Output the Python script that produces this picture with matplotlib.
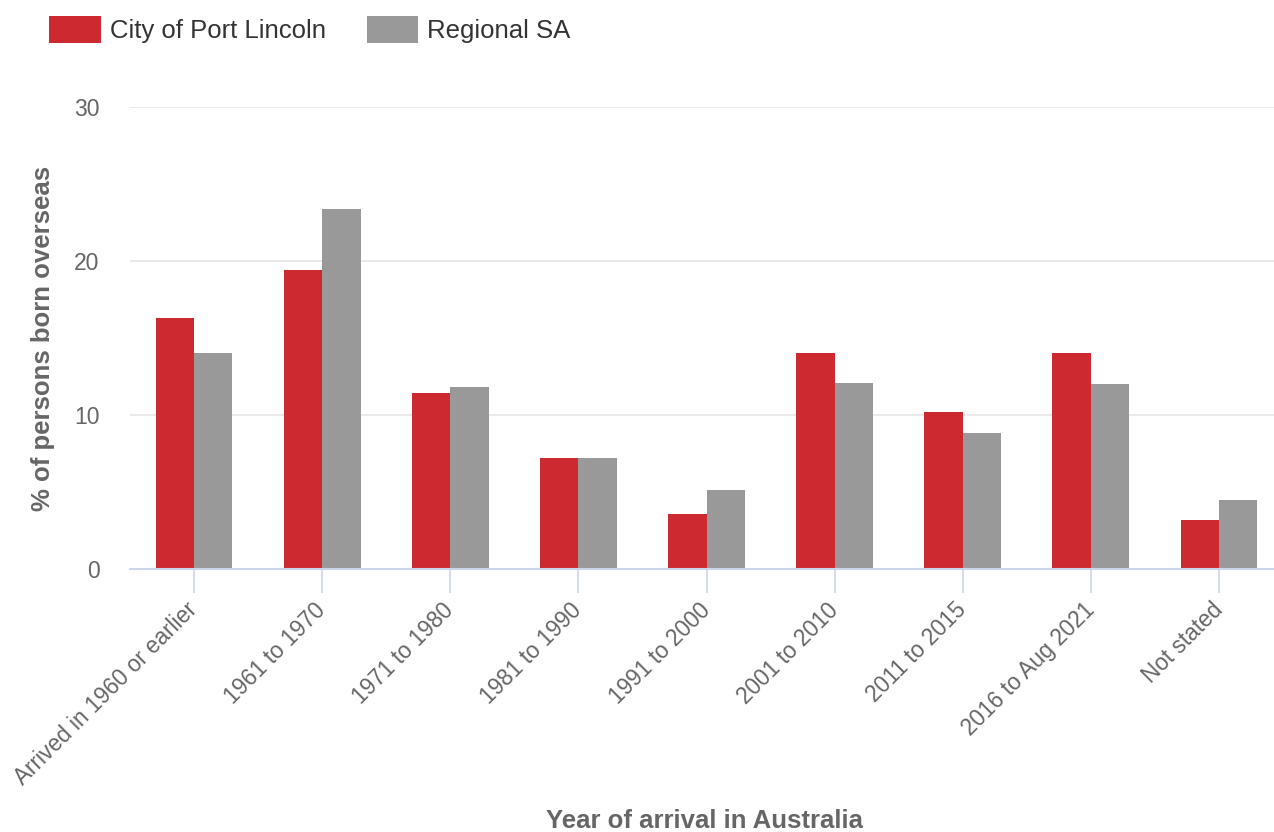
import matplotlib
matplotlib.use("Agg")
import matplotlib.pyplot as plt
import numpy as np

plt.rcParams['font.family'] = ['Liberation Sans', 'DejaVu Sans']

# data
categories = ['Arrived in 1960 or earlier', '1961 to 1970', '1971 to 1980',
              '1981 to 1990', '1991 to 2000', '2001 to 2010', '2011 to 2015',
              '2016 to Aug 2021', 'Not stated']
port_lincoln = [16.3, 19.4, 11.4, 7.2, 3.6, 14.0, 10.2, 14.0, 3.2]
regional_sa = [14.0, 23.4, 11.8, 7.2, 5.1, 12.1, 8.8, 12.0, 4.5]
yticks = [0, 10, 20, 30]

W, H = 1274, 832
fig = plt.figure(figsize=(W / 100, H / 100), dpi=100)
ax = fig.add_axes([130 / W, (H - 569) / H, 1153 / W, 462 / H])

x = np.arange(len(categories))
bw = 0.3
ax.bar(x - bw / 2, port_lincoln, bw, color='#cc2a30', label='City of Port Lincoln', zorder=3)
ax.bar(x + bw / 2, regional_sa, bw, color='#999999', label='Regional SA', zorder=3)

ax.set_xlim(-0.5, len(categories) - 0.5)
ax.set_ylim(0, 30)
ax.set_yticks(yticks)
ax.yaxis.grid(True, color='#e6e6e6', linewidth=1.2, zorder=0)
ax.set_axisbelow(True)

for s in ['top', 'right', 'left']:
    ax.spines[s].set_visible(False)
ax.spines['bottom'].set_color('#ccd6eb')
ax.spines['bottom'].set_linewidth(1.5)
ax.spines['bottom'].set_zorder(4)

ax.tick_params(axis='y', length=0, pad=22, labelsize=16.5, labelcolor='#666666')
ax.tick_params(axis='x', length=17, width=1.2, color='#ccd6eb', pad=10,
               labelsize=16.3, labelcolor='#666666')
ax.set_xticks(x)
ax.set_xticklabels(categories, rotation=45, ha='right', va='center',
                   rotation_mode='anchor')

ax.set_ylabel('% of persons born overseas', fontsize=18.5, fontweight='bold',
              color='#666666')
ax.yaxis.set_label_coords(-0.065, 0.5)
ax.set_xlabel('Year of arrival in Australia', fontsize=18.5, fontweight='bold',
              color='#666666')
ax.xaxis.set_label_coords((704 - 130) / 1153, (569 - 809) / 462)

fig.legend(loc='upper left', bbox_to_anchor=(26 / W, 1 + 7 / H), ncol=2,
           frameon=False, fontsize=18.5, handlelength=2.0, handleheight=1.25,
           handletextpad=0.35, columnspacing=1.6, labelcolor='#333333')

fig.savefig('out.png', dpi=100)
